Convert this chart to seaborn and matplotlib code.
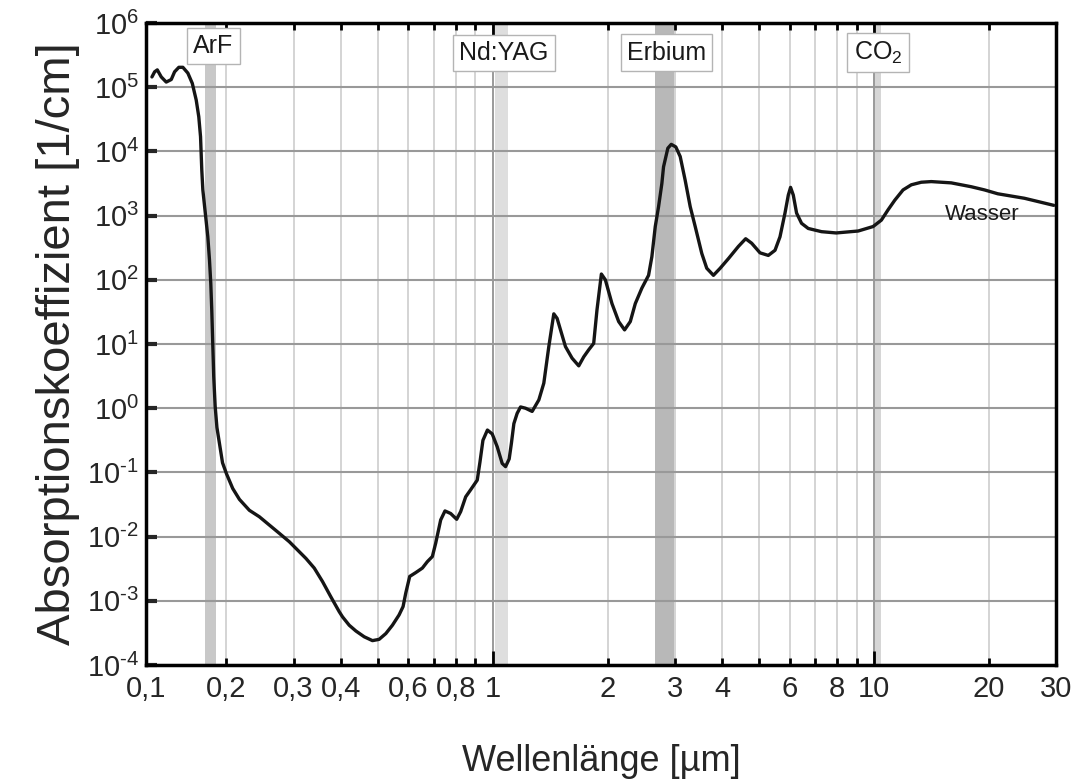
import numpy as np
import pandas as pd
import seaborn as sns
import matplotlib as mpl
from matplotlib import pyplot as plt

# Absorption spectrum of water (wavelength in um, log10 of alpha in 1/cm)
wavelength = [0.1275, 0.1296, 0.1317, 0.1349, 0.1390, 0.1433, 0.1462, 0.1500, 0.1537, 0.1584,
              0.1627, 0.1666, 0.1692, 0.1710, 0.1717, 0.1723, 0.1734, 0.1762, 0.1787, 0.1805,
              0.1819, 0.1830, 0.1841, 0.1852, 0.1868, 0.1888, 0.1917, 0.1953, 0.2000, 0.2077,
              0.2163, 0.2297, 0.2439, 0.2593, 0.2754, 0.2924, 0.3074, 0.3233, 0.3399, 0.3573,
              0.3759, 0.3953, 0.4032, 0.4198, 0.4371, 0.4596, 0.4831, 0.5029, 0.5237, 0.5450,
              0.5673, 0.5812, 0.5907, 0.6050, 0.6276, 0.6530, 0.6730, 0.6937, 0.7079, 0.7295,
              0.7487, 0.7749, 0.8035, 0.8231, 0.8484, 0.8742, 0.9097, 0.9247, 0.9415, 0.9674,
              0.9958, 1.0263, 1.0576, 1.0795, 1.1033, 1.1180, 1.1350, 1.1577, 1.1817, 1.2178,
              1.2675, 1.3199, 1.3600, 1.4017, 1.4446, 1.4736, 1.5500, 1.6130, 1.6796, 1.7309,
              1.7838, 1.8382, 1.8750, 1.9256, 1.9724, 2.0528, 2.1376, 2.2152, 2.2932, 2.3634,
              2.4589, 2.5606, 2.6122, 2.6663, 2.7202, 2.7747, 2.8030, 2.8770, 2.9368, 3.0185,
              3.0999, 3.1946, 3.2929, 3.3938, 3.5318, 3.6392, 3.7889, 3.9457, 4.1478, 4.4055,
              4.6033, 4.7735, 5.0209, 5.2782, 5.4963, 5.6640, 5.8377, 5.9560, 6.0382, 6.1376,
              6.2607, 6.4522, 6.7172, 7.2778, 7.9524, 9.0815, 9.9401, 10.450, 10.879, 11.330,
              11.910, 12.522, 13.299, 14.125, 15.936, 17.975, 19.489, 21.112, 24.803, 29.6]
log_alpha = [5.16, 5.24, 5.27, 5.16, 5.08, 5.12, 5.24, 5.31, 5.31, 5.22,
             5.06, 4.80, 4.54, 4.23, 3.95, 3.71, 3.40, 3.02, 2.67, 2.31,
             1.95, 1.53, 1.01, 0.49, 0.03, -0.30, -0.55, -0.85, -1.02, -1.25,
             -1.42, -1.59, -1.69, -1.82, -1.95, -2.08, -2.21, -2.34, -2.49, -2.70,
             -2.94, -3.17, -3.25, -3.38, -3.47, -3.56, -3.62, -3.60, -3.51, -3.38,
             -3.22, -3.09, -2.88, -2.62, -2.56, -2.49, -2.39, -2.31, -2.10, -1.74,
             -1.60, -1.64, -1.73, -1.61, -1.38, -1.27, -1.12, -0.84, -0.50, -0.34,
             -0.40, -0.60, -0.86, -0.91, -0.79, -0.55, -0.24, -0.08, 0.02, 0.00,
             -0.05, 0.13, 0.39, 0.96, 1.47, 1.40, 0.96, 0.78, 0.66, 0.80,
             0.91, 1.01, 1.53, 2.09, 2.00, 1.63, 1.35, 1.22, 1.35, 1.63,
             1.87, 2.07, 2.36, 2.83, 3.14, 3.50, 3.76, 4.05, 4.11, 4.07,
             3.92, 3.55, 3.14, 2.83, 2.41, 2.18, 2.07, 2.18, 2.33, 2.52,
             2.64, 2.57, 2.42, 2.38, 2.46, 2.67, 3.04, 3.32, 3.44, 3.32,
             3.04, 2.88, 2.80, 2.75, 2.73, 2.76, 2.83, 2.93, 3.09, 3.24,
             3.40, 3.48, 3.52, 3.53, 3.51, 3.45, 3.40, 3.34, 3.27, 3.16]

# laser lines: name, band start, band end, band colour, label position
laser_names = ['ArF', 'Nd:YAG', 'Erbium', 'CO$\\mathregular{_2}$']
band_lo = [0.176, 1.012, 2.67, 10.02]
band_hi = [0.188, 1.097, 2.99, 10.42]
band_col = ['#c8c8c8', '#dedede', '#b8b8b8', '#d6d6d6']
label_x = [0.185, 1.069, 2.855, 10.24]
label_y = [0.964, 0.953, 0.954, 0.954]

x_major = [0.123, 1, 10, 30]
x_major_labels = ['0,1', '1', '10', '30']
x_minor = [0.2, 0.3, 0.4, 0.5, 0.6, 0.7, 0.8, 0.9, 2, 3, 4, 5, 6, 7, 8, 9, 20]
x_minor_labels = ['0,2', '0,3', '0,4', '', '0,6', '', '0,8', '', '2', '3', '4', '', '6', '', '8', '', '20']
y_decades = list(range(-4, 7))

df = pd.DataFrame({'wl': wavelength, 'alpha': 10.0 ** np.array(log_alpha)})

sns.set_style('white')
plt.rcParams['font.family'] = ['Liberation Sans', 'DejaVu Sans']
plt.rcParams['mathtext.default'] = 'regular'

fig = plt.figure(figsize=(10.75, 7.8), dpi=100)
ax = fig.add_axes([0.1358, 0.1474, 0.8465, 0.8231])
ax.set_xscale('log')
ax.set_yscale('log')

for lo, hi, c in zip(band_lo, band_hi, band_col):
    ax.axvspan(lo, hi, color=c, lw=0, zorder=0.2)

sns.lineplot(data=df, x='wl', y='alpha', sort=False, estimator=None,
             color='#151515', lw=2.4, ax=ax, zorder=3)
ax.set_xlim(0.123, 30)
ax.set_ylim(1e-4, 1e6)

# ticks and grid
ax.xaxis.set_major_locator(mpl.ticker.FixedLocator(x_major))
ax.xaxis.set_major_formatter(mpl.ticker.FixedFormatter(x_major_labels))
ax.xaxis.set_minor_locator(mpl.ticker.FixedLocator(x_minor))
ax.xaxis.set_minor_formatter(mpl.ticker.FixedFormatter(x_minor_labels))
ax.tick_params(axis='x', which='both', direction='in', top=True, bottom=True,
               labelsize=21, pad=7, color='black')
ax.tick_params(axis='x', which='major', length=10, width=2)
ax.tick_params(axis='x', which='minor', length=5, width=2)

ax.set_yticks([10.0 ** k for k in y_decades])
ax.set_yticklabels(['10$^{%s}$' % str(k).replace('-', '\u2010') for k in y_decades])
ax.yaxis.set_minor_locator(mpl.ticker.NullLocator())
ax.tick_params(axis='y', which='major', direction='in', left=True, right=False,
               length=8, width=3, labelsize=21, pad=5)

ax.grid(which='minor', axis='x', color='#cdcdcd', lw=1.2)
ax.grid(which='major', axis='x', color='#9a9a9a', lw=1.4)
ax.grid(which='major', axis='y', color='#999999', lw=1.5)
ax.set_axisbelow(True)

for s in ax.spines.values():
    s.set_color('black')
    s.set_linewidth(2.5)

for name, lx, ly in zip(laser_names, label_x, label_y):
    ax.text(lx, ly, name, transform=ax.get_xaxis_transform(), ha='center', va='center',
            fontsize=18, color='#1a1a1a', zorder=5,
            bbox=dict(boxstyle='square,pad=0.25', fc='white', ec='#b4b4b4', lw=1))

ax.text(19.2, 10 ** 3.02, 'Wasser', ha='center', va='center', fontsize=16, color='#1a1a1a', zorder=5)

ax.set_xlabel('Wellenlänge [µm]', fontsize=26, labelpad=30)
ax.set_ylabel('Absorptionskoeffizient [1/cm]', fontsize=34, labelpad=5)

fig.savefig('out.png', dpi=100)
